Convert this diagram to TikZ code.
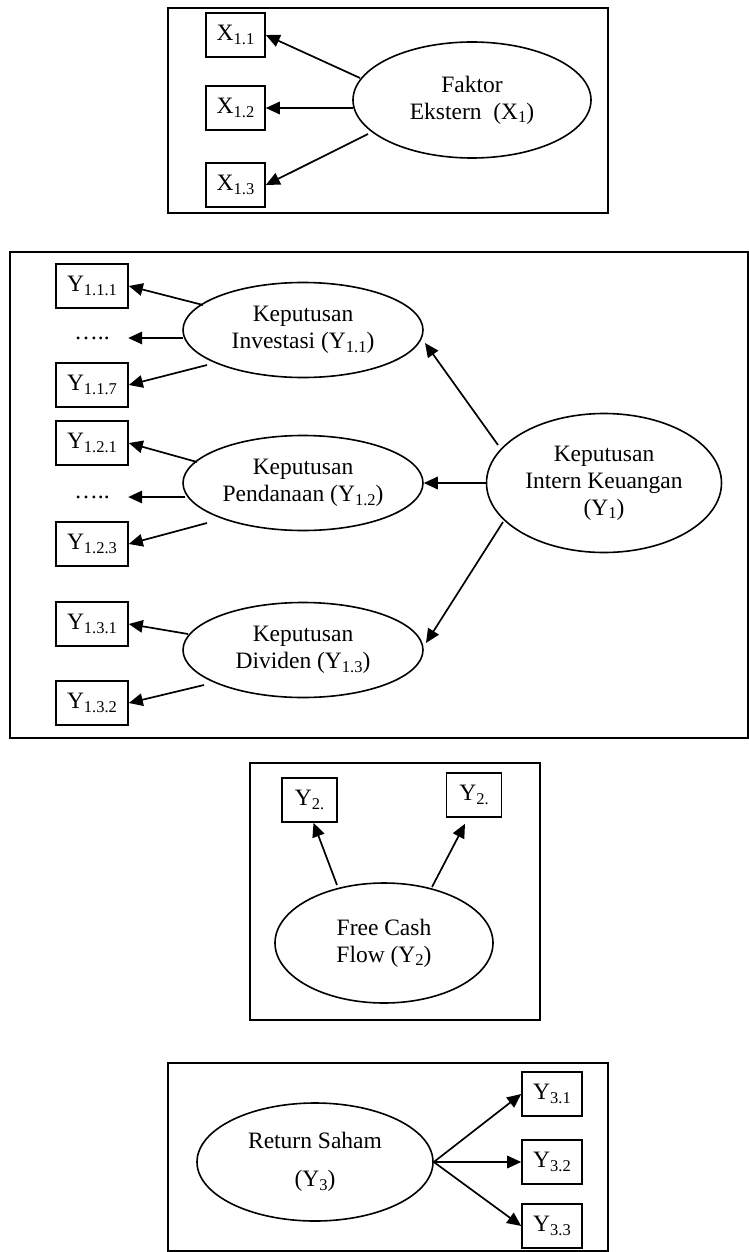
\documentclass[tikz,border=0pt]{standalone}
\usepackage{fontspec}
\setmainfont{Liberation Serif}
\usetikzlibrary{shapes.geometric,arrows.meta,calc}
\newcommand\mysub[1]{\raisebox{-3.5pt}{\fontsize{16.5}{16.5}\selectfont #1}}
\begin{document}
\begin{tikzpicture}[x=1pt,y=-1pt,
  font=\fontsize{23.5}{27}\selectfont,
  frame/.style={draw, line width=2pt},
  ind/.style={draw, rectangle, minimum height=44pt, inner sep=0pt, line width=1.6pt},
  dotn/.style={rectangle, minimum width=72pt, inner sep=0pt},
  lat/.style={draw, ellipse, inner sep=0pt, align=center, line width=1.6pt},
  arr/.style={-{Triangle[length=14pt,width=12.5pt]}, line width=1.7pt}
]
\useasboundingbox (0,0) rectangle (749,1252);

% frames
\draw[frame] (168,8) rectangle (608,213);
\draw[frame] (10,252) rectangle (748,738);
\draw[frame] (250,763) rectangle (540,1020);
\draw[frame] (168,1063) rectangle (608,1251);

% ---- box 1
\node[ind, minimum width=59pt] (x11) at (235.5,35) {X\mysub{1.1}};
\node[ind, minimum width=59pt] (x12) at (235.5,108) {X\mysub{1.2}};
\node[ind, minimum width=59pt] (x13) at (235.5,185) {X\mysub{1.3}};
\node[lat, minimum width=238pt, minimum height=116pt] (fak) at (472,100) {Faktor\\Ekstern~~(X\mysub{1})};
\draw[arr] ($(fak)+(-112,-22)$) -- (x11.east);
\draw[arr] ($(fak)+(-119,8)$) -- (x12.east);
\draw[arr] ($(fak)+(-104,34)$) -- (x13.east);

% ---- box 2
\node[ind, minimum width=72pt] (y111) at (92,286) {Y\mysub{1.1.1}};
\node[dotn] (d1) at (92,338) {…..};
\node[ind, minimum width=72pt] (y117) at (92,385) {Y\mysub{1.1.7}};
\node[ind, minimum width=72pt] (y121) at (92,443) {Y\mysub{1.2.1}};
\node[dotn] (d2) at (92,497) {…..};
\node[ind, minimum width=72pt] (y123) at (92,544) {Y\mysub{1.2.3}};
\node[ind, minimum width=72pt] (y131) at (92,624) {Y\mysub{1.3.1}};
\node[ind, minimum width=72pt] (y132) at (92,703) {Y\mysub{1.3.2}};

\node[lat, minimum width=240pt, minimum height=95pt] (inv) at (303,330) {Keputusan\\Investasi (Y\mysub{1.1})};
\node[lat, minimum width=240pt, minimum height=95pt] (pen) at (303,483) {Keputusan\\Pendanaan (Y\mysub{1.2})};
\node[lat, minimum width=240pt, minimum height=95pt] (div) at (303,650) {Keputusan\\Dividen (Y\mysub{1.3})};
\node[lat, minimum width=235pt, minimum height=139pt] (y1) at (604,483) {Keputusan\\Intern Keuangan\\(Y\mysub{1})};

\draw[arr] ($(inv)+(-100,-25)$) -- (y111.east);
\draw[arr] ($(inv)+(-120,8)$) -- (d1.east);
\draw[arr] ($(inv)+(-96,35)$) -- (y117.east);
\draw[arr] ($(pen)+(-106,-21)$) -- (y121.east);
\draw[arr] ($(pen)+(-118,14)$) -- (d2.east);
\draw[arr] ($(pen)+(-96,40)$) -- (y123.east);
\draw[arr] ($(div)+(-115,-16)$) -- (y131.east);
\draw[arr] ($(div)+(-99,35)$) -- (y132.east);

\draw[arr] ($(y1)+(-106,-38)$) -- ($(inv)+(122,13)$);
\draw[arr] (y1.west) -- (pen.east);
\draw[arr] ($(y1)+(-101,39)$) -- ($(div)+(123,-7)$);

% ---- box 3
\node[ind, minimum width=55pt] (y2a) at (309.5,800) {Y\mysub{2.}};
\node[ind, minimum width=55pt] (y2b) at (474,795) {Y\mysub{2.}};
\node[lat, minimum width=218pt, minimum height=120pt] (fcf) at (384,943) {Free Cash\\Flow (Y\mysub{2})};
\draw[arr] ($(fcf)+(-47,-58)$) -- (y2a.-80);
\draw[arr] ($(fcf)+(48,-56)$) -- ($(y2b.south)+(-9,6)$);

% ---- box 4
\node[lat, minimum width=236pt, minimum height=118pt] (ret) at (315,1162) {Return Saham\\[11pt](Y\mysub{3})};
\node[ind, minimum width=60pt] (y31) at (552,1094) {Y\mysub{3.1}};
\node[ind, minimum width=60pt] (y32) at (552,1162) {Y\mysub{3.2}};
\node[ind, minimum width=60pt] (y33) at (552,1226) {Y\mysub{3.3}};
\draw[arr] (ret.east) -- (y31.west);
\draw[arr] (ret.east) -- (y32.west);
\draw[arr] (ret.east) -- (y33.west);
\end{tikzpicture}
\end{document}
